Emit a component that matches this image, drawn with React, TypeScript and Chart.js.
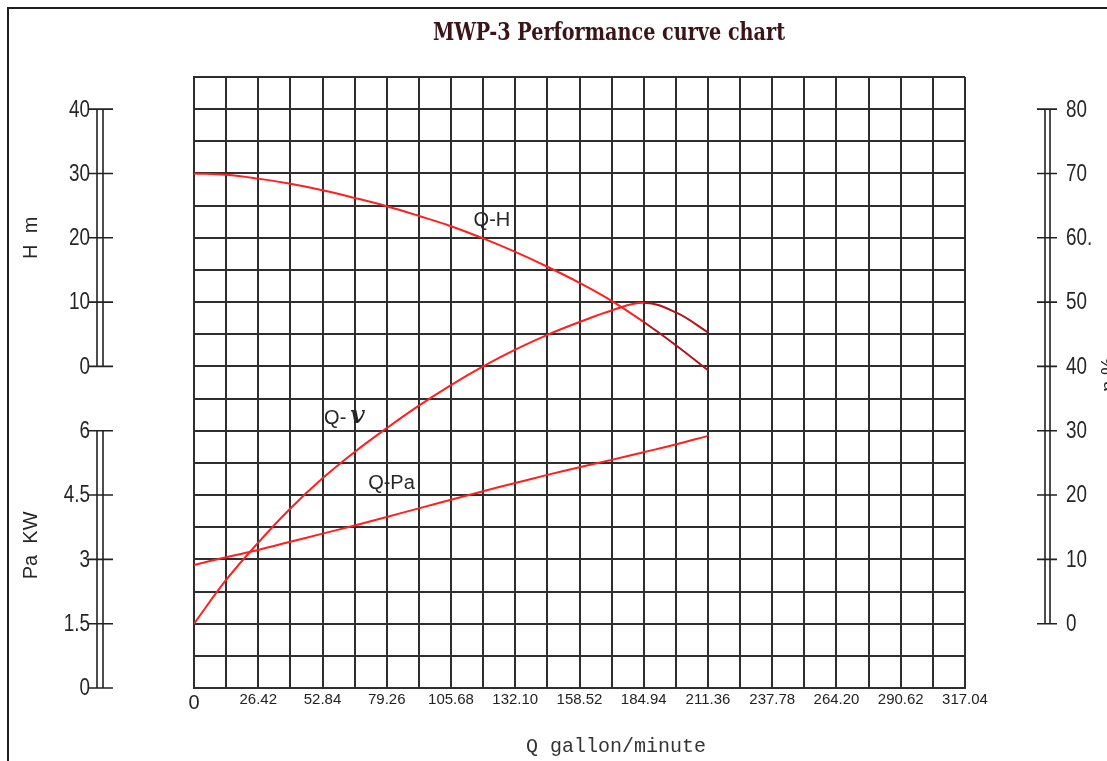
import React, { useEffect, useRef } from 'react';
import { Chart, registerables } from 'chart.js';

Chart.register(...registerables);

// Flow (gallon/minute) at which the curves were read
const Q_POINTS = [0, 13.21, 26.42, 39.63, 52.84, 66.05, 79.26, 92.47, 105.68, 118.89, 132.1, 145.31, 158.52, 171.73, 184.94, 198.15, 211.36];
// Q-H curve (m)
const HEAD_M = [30.0, 29.8, 29.2, 28.4, 27.4, 26.2, 24.9, 23.4, 21.8, 19.9, 17.8, 15.5, 13.0, 10.2, 6.9, 3.3, -0.6];
// Q-η curve (%)
const EFFICIENCY = [0, 6.8, 12.6, 17.9, 22.6, 26.7, 30.4, 33.9, 37.1, 40.0, 42.6, 44.9, 46.9, 48.7, 49.9, 48.4, 45.3];
// Q-Pa curve (KW)
const POWER_KW = [2.87, 3.05, 3.22, 3.41, 3.6, 3.79, 3.99, 4.19, 4.39, 4.59, 4.78, 4.97, 5.15, 5.32, 5.5, 5.68, 5.88];

// Axis ticks
const X_TICK_LABELS = ['0', '26.42', '52.84', '79.26', '105.68', '132.10', '158.52', '184.94', '211.36', '237.78', '264.20', '290.62', '317.04'];
const X_MAX = 317.04;
const X_MINOR_STEP = 13.21;
const H_TICKS = [0, 10, 20, 30, 40];
const H_TICK_LABELS = ['0', '10', '20', '30', '40'];
const PA_TICKS = [0, 1.5, 3, 4.5, 6];
const PA_TICK_LABELS = ['0', '1.5', '3', '4.5', '6'];
const EFF_TICKS = [0, 10, 20, 30, 40, 50, 60, 70, 80];
const EFF_TICK_LABELS = ['0', '10', '20', '30', '40', '50', '60.', '70', '80'];

// Curve label anchors (data coordinates)
const LABEL_QH = [122.5, 22.7];
const LABEL_QV = [53.5, 31.9];
const LABEL_QPA = [81.2, 4.78];

const TITLE = 'MWP-3 Performance curve chart';
const X_TITLE = 'Q gallon/minute';

const GRID_COLOR = '#2e2e2e';
const TEXT_COLOR = '#262626';
const RED = '#ff1f1f';
const DARK_RED = '#b3141c';
const SANS = '"Liberation Sans", Arial, sans-serif';

function drawRuler(ctx, scale, ticks, labels, cfg) {
  const yTop = scale.getPixelForValue(ticks[ticks.length - 1]);
  const yBot = scale.getPixelForValue(ticks[0]);
  ctx.save();
  ctx.strokeStyle = '#222';
  ctx.lineWidth = 1.6;
  ctx.beginPath();
  ctx.moveTo(cfg.l1, yTop); ctx.lineTo(cfg.l1, yBot);
  ctx.moveTo(cfg.l2, yTop); ctx.lineTo(cfg.l2, yBot);
  ticks.forEach((t) => {
    const y = scale.getPixelForValue(t);
    ctx.moveTo(cfg.t0, y); ctx.lineTo(cfg.t1, y);
  });
  ctx.stroke();
  ctx.fillStyle = TEXT_COLOR;
  ctx.font = '23px ' + SANS;
  ctx.textBaseline = 'middle';
  ctx.textAlign = cfg.align;
  ticks.forEach((t, i) => {
    const y = scale.getPixelForValue(t);
    ctx.save();
    ctx.translate(cfg.labelX, y + 1);
    ctx.scale(0.82, 1);
    ctx.fillText(labels[i], 0, 0);
    ctx.restore();
  });
  ctx.restore();
}

function drawRotated(ctx, text, x, y, font) {
  ctx.save();
  ctx.translate(x, y);
  ctx.rotate(-Math.PI / 2);
  ctx.font = font;
  ctx.fillStyle = TEXT_COLOR;
  ctx.textAlign = 'center';
  ctx.textBaseline = 'middle';
  ctx.fillText(text, 0, 0);
  ctx.restore();
}

const decorPlugin = {
  id: 'decor',
  beforeDraw(chart) {
    const ctx = chart.ctx;
    ctx.save();
    ctx.strokeStyle = '#1e1e1e';
    ctx.lineWidth = 2;
    ctx.beginPath();
    ctx.moveTo(8, chart.height);
    ctx.lineTo(8, 8);
    ctx.lineTo(chart.width, 8);
    ctx.stroke();
    ctx.restore();
  },
  afterDraw(chart) {
    const ctx = chart.ctx;
    const { x, yH, yPa, yEff } = chart.scales;

    // Title (condensed bold serif)
    ctx.save();
    ctx.font = 'bold 24px "DejaVu Serif", serif';
    const w = ctx.measureText(TITLE).width;
    ctx.translate(609, 34);
    ctx.scale(352 / w, 1);
    ctx.fillStyle = '#3a1416';
    ctx.textAlign = 'center';
    ctx.textBaseline = 'middle';
    ctx.fillText(TITLE, 0, 0);
    ctx.restore();

    // X axis title
    ctx.save();
    ctx.font = '20px "Liberation Mono", monospace';
    ctx.fillStyle = '#333';
    ctx.textAlign = 'center';
    ctx.textBaseline = 'middle';
    ctx.fillText(X_TITLE, 616, 747);
    ctx.restore();

    // Rulers
    drawRuler(ctx, yH, H_TICKS, H_TICK_LABELS, { l1: 97, l2: 103, t0: 88, t1: 113, labelX: 90, align: 'right' });
    drawRuler(ctx, yPa, PA_TICKS, PA_TICK_LABELS, { l1: 97, l2: 103, t0: 88, t1: 113, labelX: 90, align: 'right' });
    drawRuler(ctx, yEff, EFF_TICKS, EFF_TICK_LABELS, { l1: 1045, l2: 1050, t0: 1037, t1: 1057, labelX: 1066, align: 'left' });

    // Axis titles
    drawRotated(ctx, 'H  m', 31, yH.getPixelForValue(20), '20px ' + SANS);
    drawRotated(ctx, 'Pa  KW', 31, yPa.getPixelForValue(3) - 14, '20px ' + SANS);
    drawRotated(ctx, 'η %', 1109, yEff.getPixelForValue(40) + 8, '20px ' + SANS);

    // Curve labels
    ctx.save();
    ctx.fillStyle = TEXT_COLOR;
    ctx.textBaseline = 'middle';
    ctx.textAlign = 'center';
    ctx.font = '20px ' + SANS;
    ctx.fillText('Q-H', x.getPixelForValue(LABEL_QH[0]), yH.getPixelForValue(LABEL_QH[1]));
    ctx.fillText('Q-Pa', x.getPixelForValue(LABEL_QPA[0]), yPa.getPixelForValue(LABEL_QPA[1]));
    ctx.textAlign = 'left';
    const qx = x.getPixelForValue(LABEL_QV[0]);
    const qy = yEff.getPixelForValue(LABEL_QV[1]);
    ctx.fillText('Q-', qx, qy);
    const qw = ctx.measureText('Q-').width;
    ctx.font = 'italic bold 25px "DejaVu Serif", serif';
    ctx.fillText('v', qx + qw + 4, qy - 2);
    ctx.restore();
  },
};

function toPoints(ys) {
  return Q_POINTS.map((q, i) => ({ x: q, y: ys[i] }));
}

export default function App() {
  const ref = useRef(null);

  useEffect(() => {
    const chart = new Chart(ref.current, {
      type: 'line',
      data: {
        datasets: [
          {
            label: 'Q-H',
            data: toPoints(HEAD_M),
            yAxisID: 'yH',
            borderColor: RED,
            borderWidth: 2,
            pointRadius: 0,
            tension: 0.4,
            segment: { borderColor: (c) => (c.p0DataIndex >= 14 ? DARK_RED : undefined) },
          },
          {
            label: 'Q-η',
            data: toPoints(EFFICIENCY),
            yAxisID: 'yEff',
            borderColor: RED,
            borderWidth: 2,
            pointRadius: 0,
            tension: 0.4,
            segment: { borderColor: (c) => (c.p0DataIndex >= 14 ? DARK_RED : undefined) },
          },
          {
            label: 'Q-Pa',
            data: toPoints(POWER_KW),
            yAxisID: 'yPa',
            borderColor: RED,
            borderWidth: 2,
            pointRadius: 0,
            tension: 0.4,
          },
        ],
      },
      options: {
        responsive: false,
        animation: false,
        events: [],
        layout: { padding: { left: 194, right: 142, top: 77, bottom: 0 } },
        plugins: { legend: { display: false }, title: { display: false }, tooltip: { enabled: false } },
        scales: {
          x: {
            type: 'linear',
            min: 0,
            max: X_MAX,
            afterBuildTicks: (s) => {
              const t = [];
              for (let i = 0; i <= 24; i++) t.push({ value: +(i * X_MINOR_STEP).toFixed(2) });
              s.ticks = t;
            },
            afterFit: (s) => { s.height = 73; },
            grid: { color: GRID_COLOR, lineWidth: 2, drawTicks: false },
            border: { color: GRID_COLOR, width: 2 },
            ticks: {
              autoSkip: false,
              maxRotation: 0,
              padding: 3,
              color: '#222',
              font: (c) => (c.index === 0 ? { size: 20, family: SANS } : { size: 15, family: SANS }),
              callback: (v, i) => (i % 2 === 0 ? X_TICK_LABELS[i / 2] : ''),
            },
          },
          yGrid: {
            type: 'linear',
            position: 'left',
            min: 0,
            max: 19,
            afterFit: (s) => { s.width = 0; },
            ticks: { display: false, stepSize: 1 },
            grid: { color: GRID_COLOR, lineWidth: 2, drawTicks: false },
            border: { color: GRID_COLOR, width: 2 },
          },
          yH: { type: 'linear', display: false, min: -50, max: 45 },
          yPa: { type: 'linear', display: false, min: 0, max: 14.25 },
          yEff: { type: 'linear', display: false, min: -10, max: 85 },
        },
      },
      plugins: [decorPlugin],
    });
    return () => chart.destroy();
  }, []);

  return (
    <div style={{ position: 'fixed', left: 0, top: 0, width: 1107, height: 761, background: '#fff' }}>
      <canvas ref={ref} width={1107} height={761} style={{ display: 'block' }} />
    </div>
  );
}
